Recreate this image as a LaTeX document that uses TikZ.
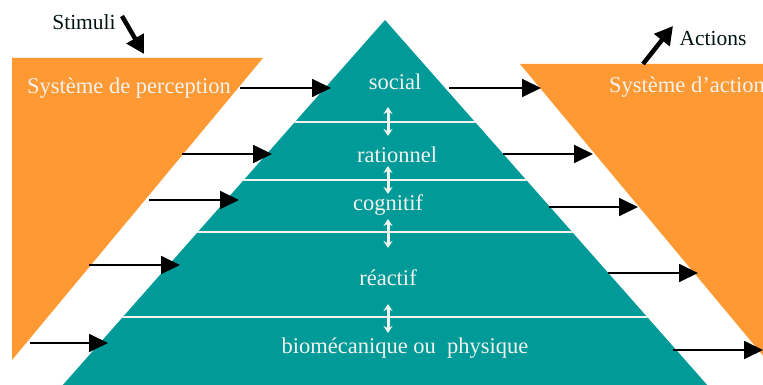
\documentclass[tikz,border=0pt]{standalone}
\usepackage{fontspec}
\setmainfont{Liberation Serif}
\usetikzlibrary{arrows.meta}
\definecolor{tealA}{HTML}{009B98}
\definecolor{orngA}{HTML}{FF9933}
\definecolor{txtA}{HTML}{F2F2EE}
\tikzset{
  lbl/.style={text=txtA, font=\fontsize{22.5}{26}\selectfont, inner sep=0pt},
  outlbl/.style={text=black!85!teal, font=\fontsize{21.5}{25}\selectfont, inner sep=0pt},
  flow/.style={draw=black, line width=1.8pt, -{Triangle[length=19pt,width=18pt]}},
  bigarrow/.style={draw=black, line width=4.5pt, -{Triangle[length=18pt,width=19pt]}},
  updown/.style={draw=txtA, line width=3pt, {Stealth[length=7pt,width=9pt]}-{Stealth[length=7pt,width=9pt]}},
  sep/.style={draw=txtA, line width=2pt}
}
\begin{document}
\begin{tikzpicture}[x=1pt,y=-1pt]
\useasboundingbox (0,0) rectangle (763,385);
\clip (0,0) rectangle (763,385);
% orange blocks
\fill[orngA] (12,58) -- (263,58) -- (12,360) -- cycle;
\fill[orngA] (520,64) -- (830,64) -- (830,400) -- (800,400) -- cycle;
% pyramid
\fill[tealA] (54,395) -- (385,20) -- (716,395) -- cycle;
\begin{scope}
  \clip (54,395) -- (385,20) -- (716,395) -- cycle;
  \foreach \yy in {122,180,232,317} \draw[sep] (0,\yy) -- (763,\yy);
\end{scope}
% level labels
\node[lbl] (social) at (395,82) {social};
\node[lbl] (rationnel) at (397,155) {rationnel};
\node[lbl] (cognitif) at (388,205) {cognitif};
\node[lbl] (reactif) at (388,278) {réactif};
\node[lbl] (bio) at (405,348) {biomécanique ou\ \ physique};
% double arrows
\coordinate (d1a) at (388,107); \coordinate (d1b) at (388,136);
\coordinate (d2a) at (388,166); \coordinate (d2b) at (388,194);
\coordinate (d3a) at (388,219); \coordinate (d3b) at (388,248);
\coordinate (d4a) at (388,304); \coordinate (d4b) at (388,333);
\draw[updown] (d1a) -- (d1b);
\draw[updown] (d2a) -- (d2b);
\draw[updown] (d3a) -- (d3b);
\draw[updown] (d4a) -- (d4b);
% system labels
\node[lbl] (perc) at (129,88) {Système de perception};
\node[lbl, anchor=west] (act) at (609,87) {Système d’action};
\node[outlbl] (stim) at (84,22) {Stimuli};
\node[outlbl] (acts) at (713,38) {Actions};
% stimuli / actions arrows
\coordinate (s0) at (122,16); \coordinate (s1) at (144,54);
\coordinate (a0) at (643,64); \coordinate (a1) at (673,26);
\draw[bigarrow] (s0) -- (s1);
\draw[bigarrow] (a0) -- (a1);
% left flow arrows
\coordinate (l1a) at (240,88);  \coordinate (l1b) at (331,88);
\coordinate (l2a) at (182,154); \coordinate (l2b) at (272,154);
\coordinate (l3a) at (149,200); \coordinate (l3b) at (239,200);
\coordinate (l4a) at (89,265);  \coordinate (l4b) at (180,265);
\coordinate (l5a) at (30,343);  \coordinate (l5b) at (108,343);
\draw[flow] (l1a) -- (l1b);
\draw[flow] (l2a) -- (l2b);
\draw[flow] (l3a) -- (l3b);
\draw[flow] (l4a) -- (l4b);
\draw[flow] (l5a) -- (l5b);
% right flow arrows
\coordinate (r1a) at (449,88);  \coordinate (r1b) at (541,88);
\coordinate (r2a) at (503,154); \coordinate (r2b) at (593,154);
\coordinate (r3a) at (549,207); \coordinate (r3b) at (638,207);
\coordinate (r4a) at (608,273); \coordinate (r4b) at (698,273);
\coordinate (r5a) at (673,350); \coordinate (r5b) at (763,350);
\draw[flow] (r1a) -- (r1b);
\draw[flow] (r2a) -- (r2b);
\draw[flow] (r3a) -- (r3b);
\draw[flow] (r4a) -- (r4b);
\draw[flow] (r5a) -- (r5b);
\end{tikzpicture}
\end{document}
